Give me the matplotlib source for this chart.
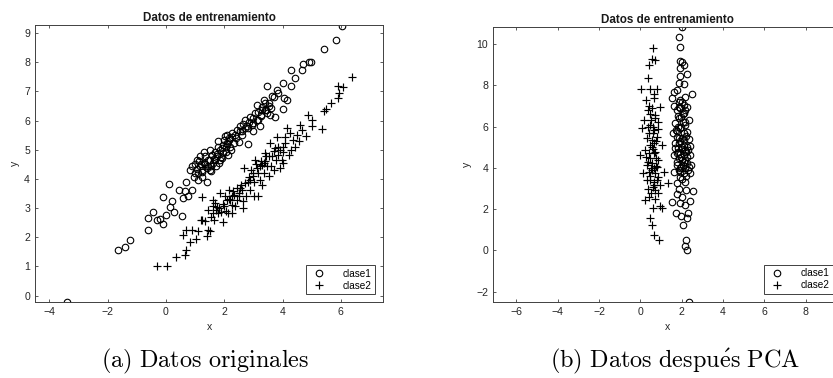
import matplotlib.pyplot as plt
from matplotlib import rc

# estilo parecido al de MATLAB
rc('font', family=['Liberation Sans', 'DejaVu Sans'], size=7.6)
rc('mathtext', fontset='cm')
rc('axes', linewidth=0.7, edgecolor='#404040')
rc('xtick', direction='in', top=True, color='#404040', labelcolor='#262626')
rc('ytick', direction='in', right=True, color='#404040', labelcolor='#262626')
rc('xtick.major', size=2.5, width=0.6)
rc('ytick.major', size=2.5, width=0.6)

# ---------------- datos originales ----------------
orig_c1_x = [-3.40, -1.65, -1.39, -1.22, -0.62, -0.60, -0.45, -0.29, -0.21, -0.10, -0.10, 0.00,
             0.10, 0.14, 0.22, 0.26, 0.44, 0.54, 0.58, 0.67, 0.70, 0.74, 0.91, 0.84, 1.00, 1.06,
             1.11, 1.17, 1.23, 1.29, 1.34, 1.40, 1.46, 1.52, 1.57, 1.63, 1.69, 1.74, 1.80, 1.86,
             1.92, 1.97, 2.03, 2.09, 2.14, 2.20, 2.28, 2.50, 2.43, 2.54, 2.66, 2.72, 2.80, 2.83,
             2.89, 2.95, 3.00, 3.06, 3.12, 3.17, 3.23, 3.29, 3.35, 3.40, 3.46, 3.46, 3.52, 3.57,
             3.63, 3.75, 3.80, 3.86, 4.00, 4.01, 4.06, 4.15, 4.28, 4.28, 4.43, 4.66, 4.70, 4.89,
             4.97, 5.43, 5.83, 6.03,
             1.17, 1.31, 1.40, 1.54, 1.72, 1.83, 1.94, 2.06, 2.17, 2.32, 2.37, 2.60, 2.77, 2.98,
             3.12, 3.26, 3.44, 3.60, 0.98, 1.09, 1.23, 0.89, 1.52, 1.69, 1.80, 2.00, 2.11, 2.23,
             1.05, 1.15, 1.25, 1.35, 1.45, 1.55, 1.65, 1.75, 1.85, 1.95, 2.05, 2.15, 2.25, 2.40,
             2.55, 2.70, 2.85, 3.00, 3.15, 3.30, 3.40, 3.55, 3.70, 0.95, 1.20, 1.50, 1.90, 2.10,
             2.60, 3.25]
orig_c1_y = [-0.21, 1.57, 1.66, 1.91, 2.25, 2.67, 2.87, 2.60, 2.63, 2.46, 3.39, 2.77,
             3.83, 3.03, 3.24, 2.86, 3.62, 2.72, 3.36, 3.58, 3.91, 3.42, 3.62, 4.31, 4.51, 4.66,
             4.22, 4.43, 4.08, 4.54, 4.77, 3.89, 4.43, 4.66, 4.83, 4.54, 4.94, 4.77, 5.29, 4.66,
             5.06, 4.89, 5.46, 5.23, 4.83, 5.11, 5.57, 5.25, 5.69, 5.80, 5.89, 6.03, 5.19, 5.74,
             6.14, 5.86, 5.92, 6.26, 6.54, 6.03, 5.80, 6.37, 6.72, 6.60, 6.26, 7.20, 6.49, 6.20,
             6.83, 6.12, 7.04, 6.95, 6.40, 7.29, 6.77, 6.72, 7.20, 7.72, 7.45, 7.72, 7.95, 8.00,
             8.00, 8.46, 8.78, 9.23,
             4.77, 4.94, 4.37, 4.26, 4.43, 4.54, 4.71, 4.94, 5.34, 5.23, 5.51, 5.63, 5.80, 5.63,
             6.03, 6.20, 6.37, 6.43, 4.20, 3.97, 4.31, 4.43, 5.00, 4.66, 5.11, 5.34, 5.51, 5.00,
             4.35, 4.60, 4.25, 4.50, 4.65, 4.45, 4.70, 4.85, 5.00, 5.15, 5.10, 5.40, 5.45, 5.40,
             5.65, 5.75, 5.95, 6.10, 6.30, 6.45, 6.35, 6.60, 6.80, 4.05, 4.50, 4.30, 4.75, 5.20,
             5.50, 6.15]

orig_c2_x = [-0.32, 0.03, 0.34, 0.66, 0.69, 0.60, 0.68, 0.83, 0.91, 1.03, 1.23, 1.24, 1.40, 1.43,
             1.46, 1.52, 1.61, 1.63, 1.69, 1.77, 1.86, 1.89, 1.95, 2.00, 2.09, 2.17, 2.26, 2.28,
             2.37, 2.43, 2.49, 2.57, 2.66, 2.69, 2.75, 2.83, 2.89, 2.97, 3.03, 3.06, 3.12, 3.17,
             3.23, 3.29, 3.35, 3.40, 3.46, 3.52, 3.57, 3.63, 3.69, 3.75, 3.80, 3.86, 3.92, 3.98,
             4.03, 4.09, 4.15, 4.21, 4.26, 4.35, 4.43, 4.55, 4.60, 4.66, 4.81, 4.86, 5.00, 5.02,
             5.36, 5.43, 5.50, 5.66, 5.89, 5.89, 5.92, 6.07, 6.37,
             2.20, 2.31, 2.45, 2.52, 2.61, 2.87, 2.92, 3.01, 3.15, 3.21, 3.37, 3.44, 3.60, 3.77,
             3.90, 4.03, 1.83, 1.72, 2.12, 2.03, 1.66, 1.21, 1.60,
             1.55, 1.75, 1.95, 2.15, 2.35, 2.55, 2.70, 2.85, 3.00, 3.10, 3.25, 3.40, 3.55, 3.70,
             3.85, 4.00, 4.10, 4.30, 4.50, 2.05, 2.25, 2.65, 3.30, 1.35, 1.10]
orig_c2_y = [1.00, 1.03, 1.34, 1.40, 1.57, 2.08, 2.25, 1.85, 2.25, 1.93, 2.60, 3.38, 2.03, 2.25,
             2.94, 2.20, 2.83, 3.28, 3.17, 2.83, 3.51, 2.88, 2.54, 3.06, 3.28, 3.63, 2.83, 3.40,
             3.06, 3.68, 3.51, 3.80, 3.00, 4.37, 3.40, 3.91, 3.63, 4.20, 3.40, 4.66, 4.37, 3.40,
             3.97, 4.49, 4.20, 4.89, 4.43, 4.09, 5.23, 4.77, 4.31, 5.06, 5.43, 4.83, 4.37, 4.66,
             4.94, 5.23, 5.74, 4.83, 5.57, 5.34, 5.11, 5.29, 5.86, 5.69, 5.48, 6.20, 6.03, 5.83,
             5.71, 6.32, 6.40, 6.60, 6.77, 7.20, 6.95, 7.15, 7.49,
             3.28, 3.57, 3.28, 3.40, 3.63, 3.97, 4.31, 3.91, 4.20, 4.43, 4.54, 4.77, 4.43, 4.66,
             5.00, 4.54, 3.00, 2.94, 2.83, 3.40, 2.60, 2.60, 3.06,
             2.70, 3.05, 3.15, 3.30, 3.45, 3.70, 3.85, 4.05, 4.10, 4.50, 4.60, 4.60, 4.80, 4.95,
             5.10, 5.10, 5.45, 5.00, 5.50, 2.90, 3.10, 3.25, 3.80, 2.55, 2.20]

# ---------------- datos despues de PCA ----------------
pca_c1_x = [2.01, 1.85, 1.93, 1.90, 2.01, 2.12, 1.93, 2.25, 1.90, 2.12, 1.85, 1.64, 1.77, 2.50,
            1.52, 2.17, 2.01, 1.61, 2.25, 1.77, 2.09, 1.85, 2.33, 1.69, 2.17, 1.93, 1.56, 2.25,
            1.77, 2.09, 2.33, 1.85, 2.38, 1.69, 2.17, 1.93, 1.61, 2.25, 2.01, 2.45, 1.77, 2.17,
            1.61, 2.38, 1.93, 2.17, 1.77, 2.57, 2.20, 1.85, 1.77, 2.01, 1.52, 2.38, 1.93, 2.17,
            1.72, 2.30, 1.98, 2.25, 2.04, 2.22, 2.14, 2.27, 2.37,
            1.85, 1.98, 2.06, 1.82, 2.09, 1.88, 2.01, 1.82, 2.09, 2.25, 1.88, 2.12, 1.98, 2.25,
            1.85, 2.09, 1.69, 1.74, 2.17, 1.93, 1.77, 2.41, 2.33,
            1.90, 2.05, 1.80, 2.15, 1.95, 1.75, 2.20, 1.90, 2.10, 1.80, 2.30, 1.95, 2.15, 1.75,
            2.05, 2.30, 1.90, 2.00, 2.20, 1.85, 2.10, 2.00, 2.00, 2.20, 1.90]
pca_c1_y = [10.84, 10.36, 9.87, 9.19, 9.14, 8.98, 8.82, 8.55, 8.45, 8.06, 8.13, 7.69, 7.77, 7.56,
            7.37, 7.45, 7.21, 7.00, 6.96, 6.80, 6.64, 6.40, 6.32, 6.16, 6.07, 5.91, 5.70, 5.75,
            5.51, 5.35, 5.38, 5.19, 5.06, 4.94, 4.86, 4.67, 4.62, 4.54, 4.38, 4.14, 4.14, 3.97,
            3.81, 3.73, 3.57, 3.33, 3.25, 2.88, 2.92, 2.96, 2.71, 2.60, 2.36, 2.39, 2.28, 2.20,
            1.79, 1.79, 1.66, 1.55, 1.23, 0.53, 0.23, 0.02, -2.49,
            6.96, 6.48, 6.24, 5.99, 5.67, 5.43, 5.02, 4.78, 4.62, 5.02, 4.46, 4.30, 4.05, 4.22,
            3.89, 3.73, 5.19, 5.83, 6.80, 7.29, 4.70, 4.62, 4.05,
            6.90, 6.60, 6.50, 6.20, 6.00, 5.80, 5.55, 5.30, 5.10, 4.95, 4.85, 4.55, 4.40, 4.30,
            4.15, 3.90, 3.80, 3.45, 3.60, 7.20, 7.05, 5.45, 4.90, 4.75, 4.00]

pca_c2_x = [0.59, 0.56, 0.72, 0.43, 0.39, 0.02, 0.48, 0.80, 0.27, 0.64, 0.96, 0.39, 0.72, 0.18,
            0.87, 0.48, 0.07, 0.64, 0.80, 0.31, 1.04, 0.56, 0.23, 0.72, -0.01, 0.48, 0.87, 0.31,
            0.64, 1.12, 0.15, 0.83, 0.48, 1.36, 0.64, 0.96, 0.39, 0.72, 0.87, 0.44, 0.23, 0.96,
            0.61, 1.04, 0.48, 0.56, 0.64, 0.88,
            0.51, 0.64, 0.40, 0.56, 0.72, 0.31, 0.56, 0.77, 0.44, 0.66, 0.28, 0.61, 0.80, 0.41,
            0.64,
            0.55, 0.45, 0.70, 0.35, 0.60, 0.75, 0.45, 0.60, 0.35, 0.75, 0.55, 0.45, 0.80, 0.60,
            0.50, 0.70, 0.40, 0.65, 0.50, 0.85]
pca_c2_y = [9.82, 9.26, 9.22, 8.98, 8.34, 7.80, 7.80, 7.80, 7.29, 7.37, 6.96, 6.80, 6.56, 6.32,
            6.24, 6.07, 5.91, 5.83, 5.51, 5.43, 5.11, 5.02, 4.86, 4.78, 4.62, 4.46, 4.38, 4.14,
            3.97, 3.81, 3.73, 3.57, 3.41, 3.28, 3.17, 3.17, 3.00, 2.92, 2.76, 2.60, 2.44, 2.15,
            2.04, 2.04, 1.55, 1.23, 0.74, 0.50,
            6.32, 5.19, 4.70, 4.22, 3.73, 3.41, 5.35, 4.46, 5.67, 3.33, 4.54, 5.99, 4.05, 3.81,
            4.70,
            6.90, 6.60, 6.40, 6.00, 5.70, 5.30, 5.10, 4.90, 4.30, 4.10, 3.90, 3.60, 3.40, 3.05,
            2.80, 2.50, 7.00, 7.60, 4.00, 5.90]

fig = plt.figure(figsize=(8.33, 3.78), dpi=100)

paneles = [
    ([0.042, 0.201, 0.418, 0.733], orig_c1_x, orig_c1_y, orig_c2_x, orig_c2_y,
     (-4.49, 7.45), (-0.22, 9.28), range(-4, 7, 2), range(0, 10, 1)),
    ([0.592, 0.202, 0.418, 0.7275], pca_c1_x, pca_c1_y, pca_c2_x, pca_c2_y,
     (-7.13, 9.73), (-2.48, 10.84), range(-6, 9, 2), range(-2, 11, 2)),
]

for pos, x1, y1, x2, y2, xl, yl, xt, yt in paneles:
    ax = fig.add_axes(pos)
    ax.plot(x1, y1, 'o', ls='none', ms=4.7, mfc='none', mec='black', mew=0.8, label='clase1')
    ax.plot(x2, y2, '+', ls='none', ms=6.2, mec='black', mew=0.85, label='clase2')
    ax.set_xlim(*xl)
    ax.set_ylim(*yl)
    ax.set_xticks(list(xt))
    ax.set_yticks(list(yt))
    ax.set_title('Datos de entrenamiento', fontweight='bold', fontsize=8.4, pad=2.5, color='#1a1a1a')
    ax.set_xlabel('x', labelpad=4, color='#262626')
    ax.set_ylabel('y', labelpad=3, color='#262626')
    leg = ax.legend(loc='lower right', fontsize=7.2, fancybox=False, framealpha=1,
                    edgecolor='#404040', borderaxespad=0.8, handletextpad=1.5,
                    labelspacing=0.2, borderpad=0.35, handlelength=1.8)
    leg.get_frame().set_linewidth(0.7)

fig.text(0.246, 0.045, r'$\mathrm{(a)\ Datos\ originales}$', ha='center', va='center', fontsize=17.5)
fig.text(0.81, 0.045, r'$\mathrm{(b)\ Datos\ despu\acute{e}s\ PCA}$', ha='center', va='center', fontsize=17.5)

plt.savefig('out.png', dpi=100)
